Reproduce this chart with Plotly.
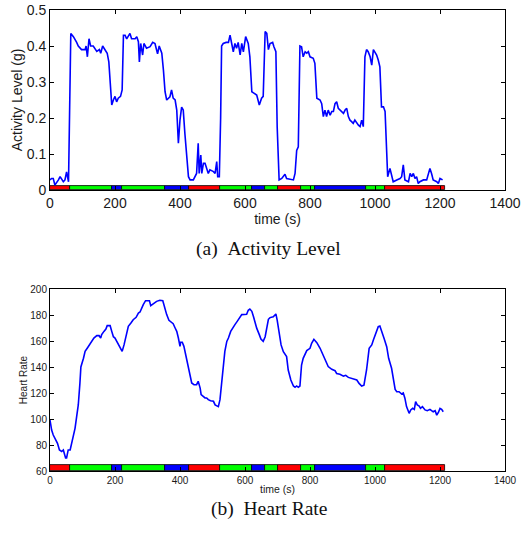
import plotly.graph_objects as go

# ---- Activity level (g) ----
act_t = [0, 5, 10, 15, 26, 31, 41, 46, 51, 57, 64, 72, 82, 87, 97, 108, 111, 115, 120, 125,
         133, 144, 152, 156, 162, 169, 176, 181, 185, 190, 195, 200, 205, 210, 217, 222, 226, 231,
         236, 241, 246, 251, 262, 267, 272, 275, 279, 285, 289, 297, 308, 316, 323, 328, 331, 336,
         344, 349, 354, 359, 369, 374, 379, 385, 390, 395, 400, 405, 410, 415, 421, 426, 431, 441,
         451, 456, 459, 464, 467, 472, 477, 482, 487, 492, 503, 508, 513, 516, 521, 525, 528, 533,
         542, 549, 554, 559, 564, 569, 574, 579, 585, 590, 595, 602, 610, 615, 621, 626, 636, 644,
         651, 656, 662, 667, 672, 677, 685, 689, 695, 699, 705, 713, 723, 728, 738, 749, 754, 759,
         764, 769, 774, 779, 785, 790, 795, 800, 810, 815, 821, 831, 836, 841, 846, 851, 856, 862,
         867, 872, 877, 882, 887, 892, 897, 903, 908, 913, 918, 923, 928, 933, 938, 944, 949, 954,
         959, 964, 969, 974, 979, 985, 990, 995, 1000, 1005, 1010, 1015, 1020, 1026, 1031, 1036,
         1039, 1046, 1051, 1056, 1067, 1077, 1082, 1087, 1092, 1103, 1108, 1113, 1118, 1123, 1128,
         1133, 1138, 1149, 1159, 1164, 1169, 1174, 1179, 1190, 1195, 1200, 1208]
act_v = [0.028, 0.032, 0.032, 0.014, 0.028, 0.037, 0.023, 0.028, 0.050, 0.023, 0.435, 0.426,
         0.410, 0.400, 0.390, 0.390, 0.400, 0.370, 0.420, 0.400, 0.400, 0.385, 0.390, 0.380,
         0.400, 0.390, 0.380, 0.356, 0.287, 0.236, 0.250, 0.260, 0.245, 0.255, 0.260, 0.278,
         0.430, 0.430, 0.420, 0.426, 0.435, 0.420, 0.420, 0.426, 0.412, 0.356, 0.407, 0.375,
         0.407, 0.394, 0.398, 0.410, 0.407, 0.389, 0.378, 0.400, 0.380, 0.333, 0.273, 0.250,
         0.259, 0.278, 0.255, 0.250, 0.222, 0.130, 0.195, 0.230, 0.222, 0.157, 0.083, 0.037,
         0.028, 0.028, 0.046, 0.130, 0.046, 0.097, 0.046, 0.074, 0.074, 0.056, 0.046, 0.056,
         0.051, 0.046, 0.079, 0.037, 0.037, 0.200, 0.400, 0.407, 0.410, 0.410, 0.430, 0.407,
         0.384, 0.407, 0.394, 0.410, 0.375, 0.407, 0.384, 0.426, 0.407, 0.370, 0.273, 0.270,
         0.264, 0.236, 0.255, 0.260, 0.440, 0.435, 0.390, 0.407, 0.410, 0.398, 0.384, 0.176,
         0.028, 0.032, 0.044, 0.032, 0.030, 0.028, 0.046, 0.110, 0.120, 0.400, 0.398, 0.370,
         0.384, 0.380, 0.384, 0.370, 0.366, 0.352, 0.255, 0.250, 0.240, 0.204, 0.222, 0.204,
         0.222, 0.208, 0.218, 0.218, 0.240, 0.245, 0.227, 0.222, 0.218, 0.213, 0.222, 0.227,
         0.204, 0.194, 0.190, 0.185, 0.194, 0.185, 0.180, 0.176, 0.194, 0.176, 0.370, 0.390,
         0.384, 0.370, 0.347, 0.390, 0.384, 0.375, 0.361, 0.342, 0.231, 0.231, 0.218, 0.100,
         0.037, 0.060, 0.037, 0.023, 0.028, 0.032, 0.037, 0.070, 0.028, 0.023, 0.046, 0.037,
         0.046, 0.032, 0.037, 0.018, 0.023, 0.028, 0.028, 0.042, 0.060, 0.046, 0.028, 0.023,
         0.018, 0.032, 0.028]

# ---- Heart rate ----
hr_t = [0, 5, 10, 18, 23, 29, 36, 41, 44, 48, 51, 56, 62, 67, 72, 77, 82, 87, 92, 95, 103, 108,
        115, 121, 128, 135, 144, 151, 156, 159, 166, 172, 176, 185, 190, 195, 200, 205, 212, 217,
        222, 228, 234, 241, 249, 256, 265, 272, 277, 282, 287, 294, 306, 310, 318, 328, 338, 347,
        349, 354, 359, 366, 374, 379, 385, 390, 395, 400, 402, 407, 412, 417, 424, 431, 436, 443,
        451, 456, 462, 465, 472, 477, 482, 487, 494, 503, 508, 518, 523, 528, 533, 538, 544, 549,
        556, 564, 569, 576, 585, 590, 605, 610, 615, 621, 626, 631, 636, 644, 649, 656, 662, 672,
        677, 687, 695, 699, 706, 711, 718, 728, 733, 741, 749, 754, 759, 764, 769, 774, 779, 785,
        790, 800, 805, 812, 821, 831, 841, 849, 856, 867, 877, 882, 892, 903, 910, 918, 925, 935,
        944, 951, 959, 966, 974, 982, 990, 995, 1003, 1010, 1015, 1022, 1028, 1036, 1042, 1051,
        1056, 1062, 1067, 1074, 1082, 1087, 1092, 1097, 1105, 1110, 1116, 1121, 1125, 1130, 1136,
        1140, 1146, 1154, 1161, 1169, 1174, 1179, 1185, 1190, 1195, 1200, 1205, 1210]
hr_v = [99.2, 91.5, 87.7, 83.8, 81.3, 76.2, 75.0, 76.2, 74.0, 70.0, 70.0, 76.2, 76.2, 81.3, 87.7,
        92.8, 101.8, 110.8, 127.4, 140.0, 146.7, 152.0, 154.6, 157.2, 159.7, 162.3, 164.1, 164.1,
        162.3, 164.9, 167.4, 169.2, 171.8, 171.8, 167.4, 163.3, 162.3, 159.7, 155.9, 153.3, 152.0,
        157.2, 164.9, 171.3, 173.8, 176.4, 178.2, 181.5, 182.3, 185.4, 188.0, 191.0, 191.0, 187.2,
        188.7, 190.5, 191.3, 191.0, 189.2, 184.6, 180.3, 175.9, 174.4, 173.3, 170.0, 167.4, 162.3,
        155.9, 159.0, 159.0, 155.9, 149.5, 140.5, 131.5, 127.7, 126.4, 126.4, 129.0, 123.8, 118.7,
        117.4, 116.2, 116.2, 114.9, 114.1, 113.6, 110.9, 109.5, 114.9, 127.7, 140.5, 152.0, 159.7,
        162.3, 167.4, 171.3, 172.6, 175.1, 178.9, 180.3, 180.5, 183.6, 184.6, 182.8, 178.9, 173.8,
        169.9, 164.9, 161.5, 159.7, 163.3, 176.7, 178.0, 178.7, 180.8, 176.0, 166.0, 157.0, 151.8,
        148.0, 137.7, 130.0, 125.4, 124.4, 125.4, 124.4, 125.4, 141.5, 146.7, 150.5, 152.6, 154.4,
        158.2, 161.3, 158.7, 154.4, 149.2, 144.0, 140.3, 138.2, 137.2, 135.0, 134.4, 133.0, 133.6,
        132.0, 131.3, 130.5, 130.0, 127.4, 125.4, 126.0, 137.7, 154.4, 157.0, 160.8, 167.0, 171.0,
        171.5, 167.0, 162.0, 155.6, 146.7, 139.0, 131.3, 122.8, 121.0, 121.0, 119.2, 120.0, 116.0,
        109.5, 104.4, 107.0, 108.2, 107.4, 113.3, 110.8, 110.0, 108.2, 109.5, 107.0, 106.4, 107.4,
        106.4, 105.6, 106.4, 103.0, 105.0, 108.2, 107.4, 105.6]

# ---- activity segments (colour band along the time axis) ----
seg_start = [0, 60, 190, 220, 355, 427, 524, 620, 660, 700, 771, 815, 971, 1032]
seg_end = [60, 190, 220, 355, 427, 524, 620, 660, 700, 771, 815, 971, 1032, 1216]
seg_color = ["#ff0000", "#00ff00", "#0000ff", "#00ff00", "#0000ff", "#ff0000", "#00ff00",
             "#0000ff", "#00ff00", "#ff0000", "#00ff00", "#0000ff", "#00ff00", "#ff0000"]
seg_len = [e - s for s, e in zip(seg_start, seg_end)]

x_ticks = [0, 200, 400, 600, 800, 1000, 1200, 1400]

W, H = 521, 535
def px_x(a, b):
    return [a / W, b / W]
def px_y(top, bottom):
    return [1 - bottom / H, 1 - top / H]

fig = go.Figure()

fig.add_trace(go.Bar(
    x=seg_len, y=[0.0055] * len(seg_len), base=seg_start, orientation="h", width=0.011,
    marker=dict(color=seg_color, line=dict(color="black", width=0.8)),
    xaxis="x", yaxis="y", showlegend=False, hoverinfo="skip"))
fig.add_trace(go.Scatter(
    x=act_t, y=act_v, mode="lines", line=dict(color="#0000ff", width=1.6),
    xaxis="x", yaxis="y", showlegend=False))

fig.add_trace(go.Bar(
    x=seg_len, y=[62.2] * len(seg_len), base=seg_start, orientation="h", width=4.4,
    marker=dict(color=seg_color, line=dict(color="black", width=0.8)),
    xaxis="x2", yaxis="y2", showlegend=False, hoverinfo="skip"))
fig.add_trace(go.Scatter(
    x=hr_t, y=hr_v, mode="lines", line=dict(color="#0000ff", width=1.6),
    xaxis="x2", yaxis="y2", showlegend=False))

axis_common = dict(showline=True, linecolor="black", linewidth=1, mirror="ticks",
                   ticks="inside", ticklen=4, tickcolor="black", showgrid=False,
                   zeroline=False, automargin=False)

serif = "Liberation Serif, Times New Roman, serif"

fig.update_layout(
    width=W, height=H, autosize=False,
    margin=dict(l=0, r=0, t=0, b=0),
    paper_bgcolor="white", plot_bgcolor="white",
    font=dict(family="Liberation Sans, Arial, sans-serif", color="#1a1a1a"),
    bargap=0,
    xaxis=dict(domain=px_x(50, 505), range=[0, 1400], tickvals=x_ticks,
               tickfont=dict(size=14), anchor="y",
               title=dict(text="time (s)", font=dict(size=14), standoff=0),
               **axis_common),
    yaxis=dict(domain=px_y(10, 190), range=[0, 0.5], dtick=0.1, anchor="x",
               tickfont=dict(size=14),
               title=dict(text="Activity Level (g)", font=dict(size=14), standoff=0),
               **axis_common),
    xaxis2=dict(domain=px_x(50, 505), range=[0, 1400], tickvals=x_ticks,
                tickfont=dict(size=10), anchor="y2",
                title=dict(text="time (s)", font=dict(size=10.5), standoff=0),
                **axis_common),
    yaxis2=dict(domain=px_y(289, 471), range=[60, 200], dtick=20, anchor="x2",
                tickfont=dict(size=10),
                title=dict(text="Heart Rate", font=dict(size=10), standoff=0),
                **axis_common),
    annotations=[
        dict(text="(a)\u00a0\u00a0Activity Level", x=268.5 / W, y=1 - 249 / H,
             xref="paper", yref="paper", showarrow=False,
             font=dict(family=serif, size=19.5, color="#111")),
        dict(text="(b)\u00a0\u00a0Heart Rate", x=268.5 / W, y=1 - 522 / H,
             xref="paper", yref="paper", showarrow=False,
             font=dict(family=serif, size=19.5, color="#111")),
    ],
)

fig.write_html("out.html", config={"displayModeBar": False},
               post_script="document.body.style.margin='0';document.body.style.overflow='hidden';")
